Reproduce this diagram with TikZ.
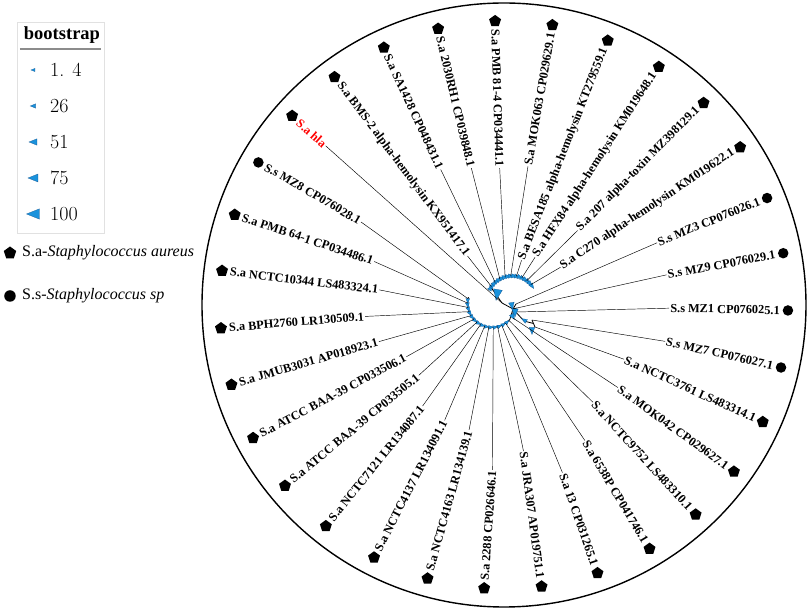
\documentclass[tikz,border=0pt]{standalone}
\usepackage{fontspec}
\newfontfamily\tnr{Liberation Serif}
\usetikzlibrary{shapes.geometric}

\definecolor{bootblue}{RGB}{26,146,220}
\definecolor{bootedge}{RGB}{16,80,140}
\definecolor{legframe}{RGB}{225,225,225}

\tikzset{
    leafline/.style={line width=0.45pt},
    treeline/.style={line width=0.8pt},
    leaflabel/.style={font=\tnr\fontsize{12.3}{14}\selectfont\bfseries, inner sep=1pt},
    aureus/.style={regular polygon, regular polygon sides=5, fill=black, inner sep=0pt, minimum size=12.5pt},
    spmark/.style={circle, fill=black, inner sep=0pt, minimum size=10.5pt},
    bsmark/.pic={\filldraw[fill=bootblue, draw=bootedge, line width=0.2pt] (-0.5,0) -- (0.5,0.4) -- (0.5,-0.4) -- cycle;},
}

\begin{document}
\begin{tikzpicture}[x=1pt, y=1pt]
    \pgfmathsetmacro\rcirc{302};
    \pgfmathsetmacro\rlabel{277};
    \pgfmathsetmacro\rmark{284};
    \pgfmathsetmacro\dang{360/31};

    \useasboundingbox (-504,-307) rectangle (305,305);
    \draw[line width=1.4pt] (0,0) circle (\rcirc);

    \coordinate (rt) at (-2,2);
    \coordinate (hub) at (9,-4);
    \foreach \k/\a in {1/145,2/132,3/119,4/106,5/93,6/80,7/67,8/54,9/41}
        \coordinate (u\k) at ([shift={(8,4)}]\a:25);
    \foreach \k in {1,...,15} {
        \pgfmathsetmacro\a{170+(\k-1)*10.3}
        \coordinate (d\k) at ([shift={(-12,2)}]\a:24.3);
    }
    \coordinate (r1) at (12,1);
    \coordinate (r2) at (13,-3);
    \coordinate (r3) at (13,-7);
    \coordinate (r4) at (28,-15);
    \coordinate (r5) at (31,-22);
    \coordinate (r6) at (9,-13);

    \draw[treeline] (rt) -- ([shift={(8,4)}]147:25) arc[start angle=147, end angle=38, radius=25];
    \draw[treeline] ([shift={(-12,2)}]166:24.3) arc[start angle=166, end angle=317, radius=24.3] -- (hub);
    \draw[treeline] (rt) -- (hub) (hub) -- (r1) (hub) -- (r2) (hub) -- (r3) (hub) -- (r6);
    \draw[treeline] (hub) -- (20,-16) -- (29.5,-18.5) (r4) -- (r5);

    \foreach \a in {148,141,...,36}
        \pic[rotate=\a+90, scale=5.5] at ([shift={(8,4)}]\a:25) {bsmark};
    \foreach \k in {1,...,14}
        \pic[rotate=80+\k*10.3, scale=4.8] at ([shift={(-12,2)}]175.15+\k*10.3-10.3:24.3) {bsmark};
    \pic[rotate=80, scale=11] at (-7,10) {bsmark};
    \pic[rotate=100, scale=7] at (8,-1) {bsmark};
    \pic[rotate=90, scale=8] at (11,-8) {bsmark};
    \pic[rotate=120, scale=6] at (9,-12) {bsmark};
    \pic[rotate=-30, scale=5.5] at (20,-15) {bsmark};
    \pic[rotate=90, scale=7] at (28,-26) {bsmark};

    \foreach \i/\lbl/\kind/\tip in {
        1/{S.a PMB 81-4 CP034441.1}/aureus/u4,
        2/{S.a MOK063 CP029629.1}/aureus/u5,
        3/{S.a BESA185 alpha-hemolysin KT279559.1}/aureus/u6,
        4/{S.a HFX84 alpha-hemolysin KM019648.1}/aureus/u7,
        5/{S.a 207 alpha-toxin MZ398129.1}/aureus/u8,
        6/{S.a C270 alpha-hemolysin KM019622.1}/aureus/u9,
        7/{S.s MZ3 CP076026.1}/spmark/r1,
        8/{S.s MZ9 CP076029.1}/spmark/r2,
        9/{S.s MZ1 CP076025.1}/spmark/r3,
        10/{S.s MZ7 CP076027.1}/spmark/r4,
        11/{S.a NCTC3761 LS483314.1}/aureus/r5,
        12/{S.a MOK042 CP029627.1}/aureus/r6,
        13/{S.a NCTC9752 LS483310.1}/aureus/d15,
        14/{S.a 6538P CP041746.1}/aureus/d14,
        15/{S.a 13 CP031265.1}/aureus/d13,
        16/{S.a JRA307 AP019751.1}/aureus/d12,
        17/{S.a 2288 CP026646.1}/aureus/d11,
        18/{S.a NCTC4163 LR134139.1}/aureus/d10,
        19/{S.a NCTC4137 LR134091.1}/aureus/d9,
        20/{S.a NCTC7121 LR134087.1}/aureus/d8,
        21/{S.a ATCC BAA-39 CP033505.1}/aureus/d7,
        22/{S.a ATCC BAA-39 CP033506.1}/aureus/d6,
        23/{S.a JMUB3031 AP018923.1}/aureus/d5,
        24/{S.a BPH2760 LR130509.1}/aureus/d4,
        25/{S.a NCTC10344 LS483324.1}/aureus/d3,
        26/{S.a PMB 64-1 CP034486.1}/aureus/d2,
        27/{S.s MZ8 CP076028.1}/spmark/d1,
        28/{\color{red}S.a hla}/aureus/rt,
        29/{S.a BMS-2 alpha-hemolysin KX951417.1}/aureus/u1,
        30/{S.a SA1428 CP048431.1}/aureus/u2,
        31/{S.a 2030RH1 CP039848.1}/aureus/u3} {
        \pgfmathsetmacro\ang{91.8-(\i-1)*\dang}
        \pgfmathtruncatemacro\flip{cos(\ang)<0}
        \ifnum\flip=1
            \pgfmathsetmacro\rot{\ang+180}\def\anchorout{west}\def\anchorin{east}
        \else
            \pgfmathsetmacro\rot{\ang}\def\anchorout{east}\def\anchorin{west}
        \fi
        \node[leaflabel, anchor=\anchorout, rotate=\rot] (l\i) at (\ang:\rlabel) {\lbl};
        \node[\kind] (m\i) at (\ang:\rmark) {};
        \draw[leafline] (\tip) -- (l\i.\anchorin);
    }

    \draw[legframe, line width=0.8pt] (-487,283) rectangle (-400,72);
    \node[font=\tnr\fontsize{18.5}{20}\selectfont\bfseries] (bshead) at (-442,270) {bootstrap};
    \draw[black!45, line width=1.3pt] (-484,256) -- (-403,256);
    \foreach \v/\s [count=\k] in {1. 4/4, 26/5.5, 51/8, 75/10, 100/13} {
        \pic[scale=\s] at (-471,271-36*\k) {bsmark};
        \node[anchor=west, inner sep=0pt, font=\fontsize{20}{22}\selectfont] (bs\k) at (-454,271-36*\k) {\v};
    }

    \node[aureus, minimum size=13pt] (keya) at (-494,52) {};
    \node[anchor=west, inner sep=0pt, font=\tnr\fontsize{16}{18}\selectfont] (keyatext) at (-482,52) {S.a-\textit{Staphylococcus aureus}};
    \node[spmark, minimum size=11.5pt] (keys) at (-494,9) {};
    \node[anchor=west, inner sep=0pt, font=\tnr\fontsize{16}{18}\selectfont] (keystext) at (-482,9) {S.s-\textit{Staphylococcus sp}};
\end{tikzpicture}
\end{document}
